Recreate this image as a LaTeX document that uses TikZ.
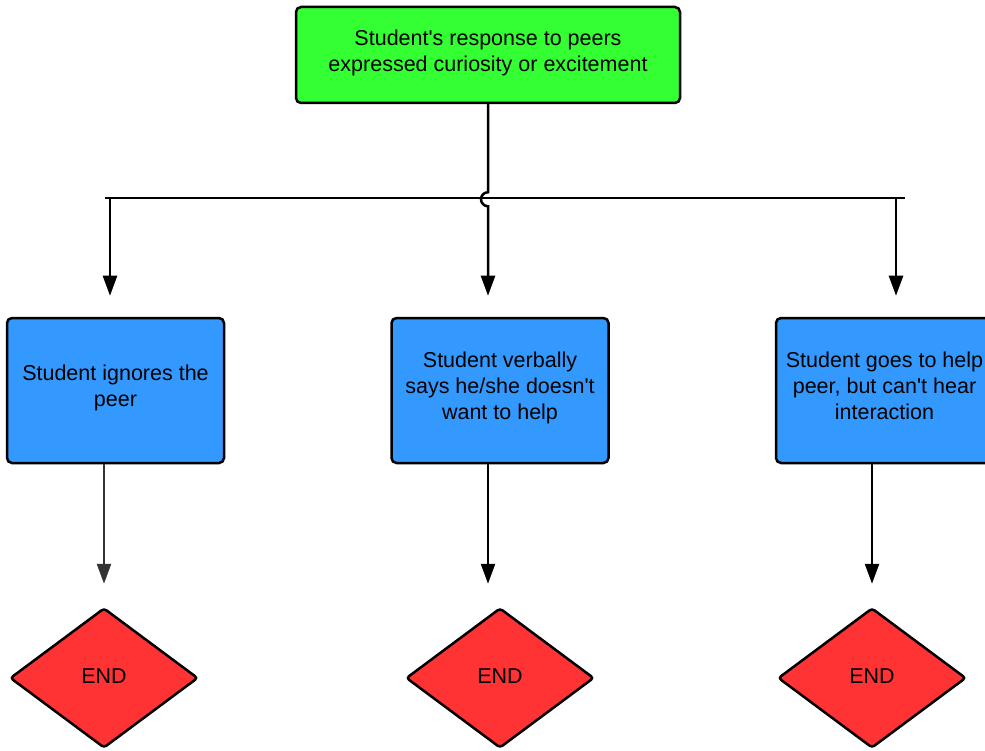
\documentclass[tikz,border=0pt]{standalone}
\usepackage{fontspec}
\setmainfont{Liberation Sans}
\usetikzlibrary{shapes.geometric,arrows.meta}

\definecolor{startgreen}{RGB}{51,255,51}
\definecolor{choiceblue}{RGB}{51,153,255}
\definecolor{endred}{RGB}{255,51,51}
\definecolor{arrowgray}{RGB}{51,51,51}

\tikzset{
	box/.style={draw, line width=2.5pt, rounded corners=5pt, inner sep=0pt, align=center,
		text depth=9pt, font=\fontsize{21.5}{26}\selectfont},
	startbox/.style={box, fill=startgreen, minimum width=384pt, minimum height=96pt},
	choicebox/.style={box, fill=choiceblue, minimum width=217pt, minimum height=145pt},
	endnode/.style={diamond, draw, line width=2.5pt, rounded corners=3pt, fill=endred,
		inner sep=0pt, minimum width=188pt, minimum height=140pt, text depth=4pt,
		font=\fontsize{21.5}{26}\selectfont},
	flow/.style={line width=2.5pt, -{Triangle[length=20pt,width=14pt]}}
}

\begin{document}
\begin{tikzpicture}[x=1pt,y=-1pt]
	\useasboundingbox (0,0) rectangle (985,751);
	\clip (0,0) rectangle (985,751);

	\node[startbox] (resp) at (488,55) {Student\textquotesingle s response to peers\\expressed curiosity or excitement};

	\node[choicebox] (ignore) at (115.5,390.5) {Student ignores the\\peer};
	\node[choicebox] (refuse) at (500,390.5) {Student verbally\\says he/she doesn\textquotesingle t\\want to help};
	\node[choicebox] (help) at (884.5,390.5) {Student goes to help\\peer, but can\textquotesingle t hear\\interaction};

	\node[endnode] (endA) at (104,678) {END};
	\node[endnode] (endB) at (500,678) {END};
	\node[endnode] (endC) at (872,678) {END};

	\path
	(105,198) coordinate (busL)
	(905,198) coordinate (busR)
	(110,198) coordinate (forkA)
	(896,198) coordinate (forkC);

	\draw[line width=2.5pt] (busL)--(busR);

	\draw[flow,shorten >=21pt]
	(resp.south) -- ++(0,88) arc[start angle=90,end angle=270,radius=7pt]
	-- (resp.south |- refuse.north);
	\draw[flow,shorten >=21pt] (forkA) -- (forkA |- ignore.north);
	\draw[flow,shorten >=21pt] (forkC) -- (forkC |- help.north);

	\draw[flow,color=arrowgray,shorten >=23pt] (ignore.south -| endA) -- (endA.north);
	\draw[flow,shorten >=23pt] ([xshift=-12pt]refuse.south) -- ([xshift=-12pt]refuse.south |- endB.north);
	\draw[flow,shorten >=23pt] (help.south -| endC) -- (endC.north);
\end{tikzpicture}
\end{document}
